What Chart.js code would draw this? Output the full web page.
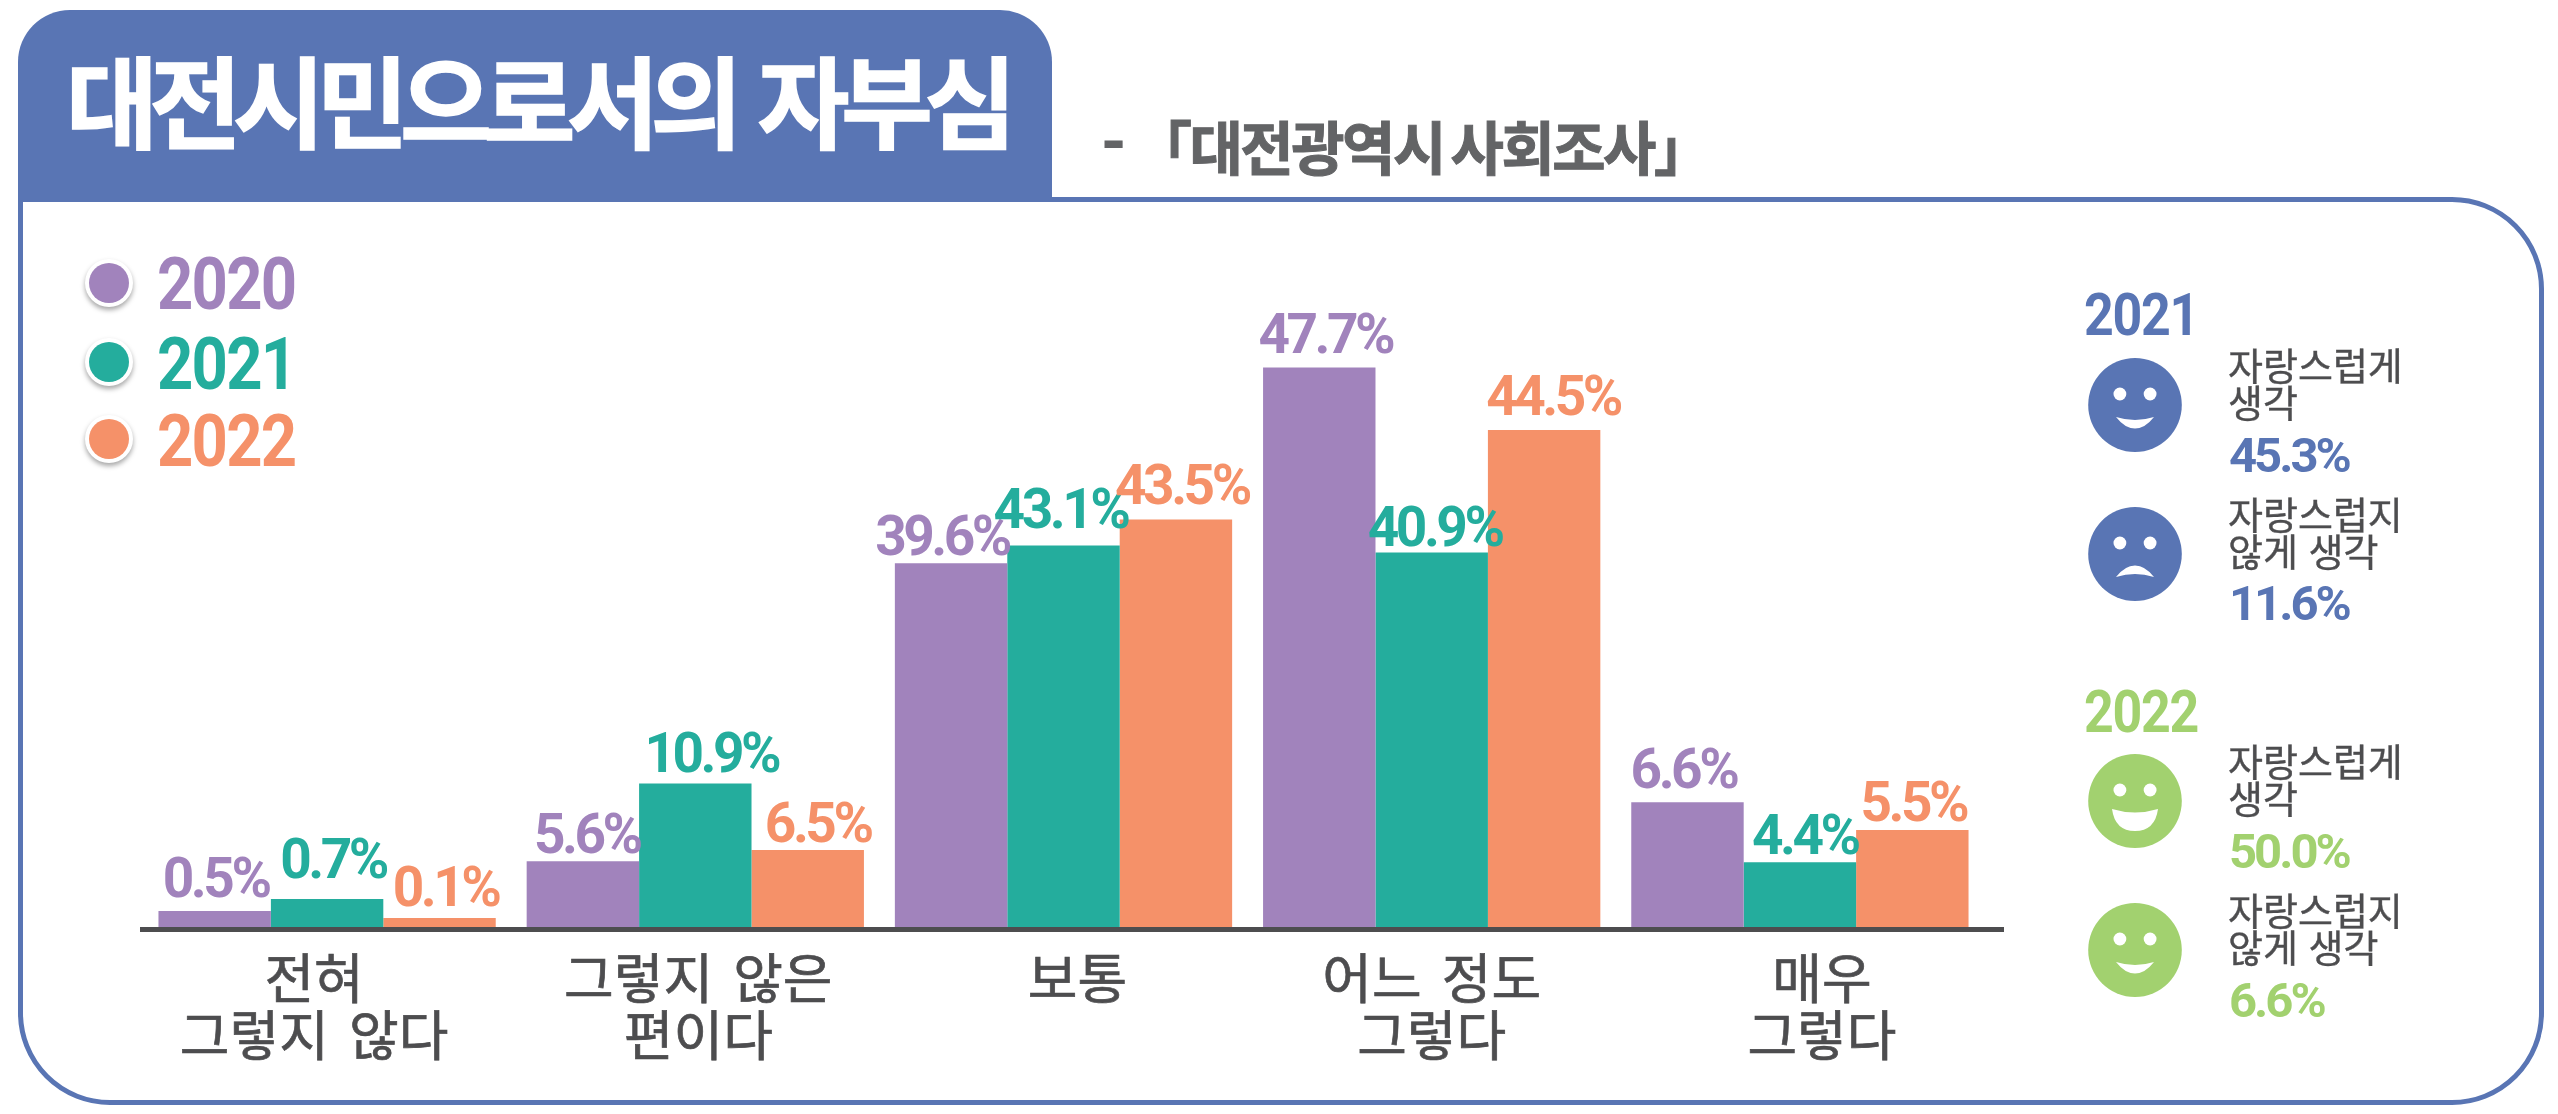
<!DOCTYPE html>
<html lang="ko">
<head>
<meta charset="utf-8">
<title>대전시민으로서의 자부심</title>
<script src="https://cdn.jsdelivr.net/npm/chart.js@4/dist/chart.umd.js"></script>
<style>
    html, body { margin: 0; padding: 0; background: #fff; width: 2558px; height: 1114px; overflow: hidden; }
    #tab { position: absolute; left: 18px; top: 10px; width: 1034px; height: 188px; background: #5975b4; border-radius: 52px 52px 0 0; }
    #frame { position: absolute; left: 18px; top: 197px; width: 2516px; height: 898px; border: 5px solid #5975b4; border-radius: 0 92px 92px 92px; }
    #chart { position: absolute; left: 0; top: 0; }
    .txt { position: absolute; white-space: pre; line-height: 1; transform-origin: left center; }
    .dot { position: absolute; width: 40px; height: 40px; border-radius: 50%; box-shadow: 0 0 0 4px #fff, 0 3px 5px 4px rgba(0,0,0,.35); }
    .face { position: absolute; width: 96px; height: 96px; }
</style>
</head>
<body>
<div id="tab"></div>
<div id="frame"></div>
<canvas id="chart" width="2558" height="1114"></canvas>
<script>
const categories = [['전혀', '그렇지 않다'], ['그렇지 않은', '편이다'], ['보통'], ['어느 정도', '그렇다'], ['매우', '그렇다']]
const years = ['2020', '2021', '2022']

// percentages printed above the bars
const printed2020 = [0.5, 5.6, 39.6, 47.7, 6.6]
const printed2021 = [0.7, 10.9, 43.1, 40.9, 4.4]
const printed2022 = [0.1, 6.5, 43.5, 44.5, 5.5]

// the bars in the picture are not to scale with their printed numbers,
// so the heights are read off separately (in units of the 47.7 bar)
const heights2020 = [1.57, 5.8, 31.1, 47.7, 10.8]
const heights2021 = [2.59, 12.4, 32.6, 32.0, 5.7]
const heights2022 = [0.98, 6.75, 34.8, 42.4, 8.45]

const colors = ['#a183bc', '#24ad9d', '#f59169']
const blue = '#5975b4'
const green = '#a2d16f'
const dark = '#4d4d4f'

const prideLabels = ['자랑스럽게', '생각']
const shameLabels = ['자랑스럽지', '않게 생각']
const pride2021 = ['45.3%', '11.6%']
const pride2022 = ['50.0%', '6.6%']

const KR = '"Noto Sans CJK KR"'
const NUM = 'Roboto'

// hand placement of the labels in the original, one row per series
const labelDx = [[1, 4, -9, 6, -4], [6, 16, -3, 3, 5], [6, 10, 6, 9, 1]]
const labelGap = [[14, 8, 8, 15, 14], [21, 11, 17, 7, 8], [12, 8, 16, 15, 9]]
const tickDx = [-13, 3, 14, 0, 22]

const addText = (text, x, baseline, size, weight, color, spacing, family, extra = '') => {
    const el = document.createElement('div')
    const k = family === KR ? 0.936 : 0.8415
    el.className = 'txt'
    el.textContent = text
    el.style.cssText = `left:${x}px;top:${baseline - k * size}px;font:${weight} ${size}px ${family};line-height:1;color:${color};letter-spacing:${spacing}px;${extra}`
    document.body.appendChild(el)
}

const addFace = (cy, color, mouth) => {
    const eyes = `<circle cx="-15.1" cy="-11" r="6.4" fill="#fff"/><circle cx="15.1" cy="-11" r="6.4" fill="#fff"/>`
    const svg = `<svg class="face" style="left:2087px;top:${cy - 48}px" viewBox="-48 -48 96 96">
        <ellipse rx="46.8" ry="47" fill="${color}"/>${eyes}<path d="${mouth}" fill="#fff"/></svg>`
    document.body.insertAdjacentHTML('beforeend', svg)
}

const smile = 'M-19,12 Q0,18 19,12 Q10,23.5 0,23.5 Q-10,23.5 -19,12Z'
const frown = 'M-19,23 Q0,17 19,23 Q10,11.5 0,11.5 Q-10,11.5 -19,23Z'
const grin = 'M-23,8 Q0,15 23,8 Q20,30 0,30 Q-20,30 -23,8Z'

const renderHeader = () => {
    addText('대전시민으로서의 자부심', 66, 142, 100, 700, '#fff', -8.5, KR, '-webkit-text-stroke:1.5px #fff;word-spacing:4px')
    addText('-', 1102, 168, 62, 700, '#636466', 0, KR, '-webkit-text-stroke:1px #636466')
    addText('「대전광역시 사회조사」', 1134, 170, 58, 700, '#636466', -2.5, KR, '-webkit-text-stroke:1px #636466;word-spacing:-7px')
}

const renderLegend = () => {
    const centers = [283, 362, 439]
    const baselines = [310, 390, 467]
    years.forEach((year, i) => {
        const dot = document.createElement('div')
        dot.className = 'dot'
        dot.style.cssText = `left:89px;top:${centers[i] - 20}px;background:${colors[i]}`
        document.body.appendChild(dot)
        addText(year, 157, baselines[i], 72, 700, colors[i], -2, NUM, 'transform:scaleX(.88)')
    })
}

const renderBlock = (cy, color, mouth, lines, value) => {
    addFace(cy, color, mouth)
    addText(lines[0], 2228, cy - 24, 38, 400, dark, 0, KR, `-webkit-text-stroke:.4px ${dark}`)
    addText(lines[1], 2228, cy + 13, 38, 400, dark, 0, KR, `-webkit-text-stroke:.4px ${dark}`)
    addText(value, 2229, cy + 67, 49, 700, color, -3, NUM)
}

const renderSide = () => {
    addText('2021', 2084, 335, 59, 700, blue, -1.5, NUM, 'transform:scaleX(.88)')
    renderBlock(405, blue, smile, prideLabels, pride2021[0])
    renderBlock(553.5, blue, frown, shameLabels, pride2021[1])
    addText('2022', 2084, 732, 59, 700, green, -1.5, NUM, 'transform:scaleX(.88)')
    renderBlock(801, green, grin, prideLabels, pride2022[0])
    renderBlock(950, green, smile, shameLabels, pride2022[1])
}

// percentage labels, category labels and the overhang of the axis
const annotations = {
    id: 'annotations',
    afterDraw(chart) {
        const { ctx, chartArea, scales } = chart
        ctx.save()
        ctx.fillStyle = dark
        ctx.fillRect(chartArea.left - 3, chartArea.bottom - 2.5, 3, 5)
        ctx.fillRect(chartArea.right, chartArea.bottom - 2.5, 20, 5)

        ctx.textAlign = 'center'
        ctx.textBaseline = 'alphabetic'
        ctx.font = `700 55px ${NUM}`
        ctx.letterSpacing = '-3.5px'
        chart.data.datasets.forEach((ds, s) => {
            ctx.fillStyle = ds.backgroundColor
            chart.getDatasetMeta(s).data.forEach((bar, i) => {
                ctx.fillText(ds.printed[i].toFixed(1) + '%', bar.x + labelDx[s][i], bar.y - labelGap[s][i])
            })
        })

        ctx.font = `400 54px ${KR}`
        ctx.letterSpacing = '0px'
        ctx.wordSpacing = '8px'
        ctx.fillStyle = dark
        ctx.strokeStyle = dark
        ctx.lineWidth = 0.7
        categories.forEach((lines, i) => {
            const x = scales.x.getPixelForValue(i) + tickDx[i]
            lines.forEach((line, l) => {
                const y = chartArea.bottom + 69 + l * 57
                ctx.fillText(line, x, y)
                ctx.strokeText(line, x, y)
            })
        })
        ctx.restore()
    }
}

const renderChart = () => {
    const printed = [printed2020, printed2021, printed2022]
    const heights = [heights2020, heights2021, heights2022]
    const data = {
        labels: categories,
        datasets: years.map((year, i) => ({
            label: year,
            data: heights[i],
            printed: printed[i],
            backgroundColor: colors[i],
            categoryPercentage: 0.916,
            barPercentage: 1
        }))
    }
    const options = {
        responsive: false,
        animation: false,
        devicePixelRatio: 1,
        layout: { padding: { left: 143, right: 574, top: 340.5, bottom: 0 } },
        plugins: { legend: { display: false }, tooltip: { enabled: false } },
        scales: {
            x: {
                grid: { display: false },
                border: { display: true, color: dark, width: 5, z: 1 },
                ticks: { display: false },
                afterFit: scale => { scale.height = 184.5 }
            },
            y: { display: false, min: 0, max: 50 }
        }
    }
    new Chart('chart', { type: 'bar', data, options, plugins: [annotations] })
}

renderHeader()
renderLegend()
renderSide()
document.fonts.ready.then(renderChart)
</script>
</body>
</html>
